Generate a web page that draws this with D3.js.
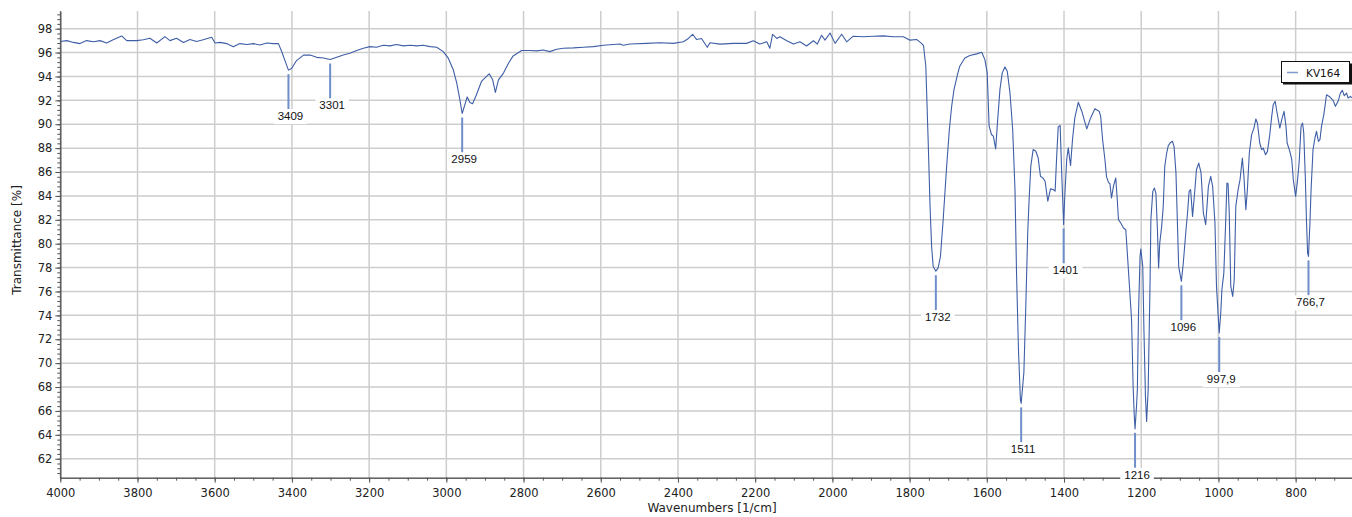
<!DOCTYPE html>
<html><head><meta charset="utf-8">
<script src="https://cdn.jsdelivr.net/npm/d3@7"></script>
<style>body{margin:0;background:#fff}svg{display:block}</style>
</head><body>
<svg id="chart" width="1352" height="517"></svg>
<script>
const wavenumbers = [4000,3983,3966,3949,3932,3914,3897,3880,3863,3841,3828,3802,3785,3768,3750,3729,3716,3699,3681,3664,3647,3630,3608,3599,3586,3569,3552,3535,3517,3500,3483,3465,3448,3435,3427,3418,3409,3401,3388,3370,3353,3336,3318,3301,3284,3267,3250,3232,3215,3198,3181,3163,3146,3129,3111,3094,3077,3060,3042,3025,3008,2995,2982,2973,2965,2959,2952,2946,2939,2932,2922,2909,2896,2889,2880,2873,2865,2852,2839,2827,2805,2783,2766,2749,2732,2714,2697,2671,2645,2619,2593,2568,2550,2542,2524,2481,2447,2412,2386,2373,2362,2352,2339,2324,2317,2291,2257,2222,2205,2188,2170,2162,2155,2144,2136,2118,2101,2084,2067,2049,2039,2028,2019,2006,1993,1976,1963,1946,1920,1894,1868,1842,1816,1799,1782,1769,1764,1758,1752,1747,1743,1739,1732,1726,1720,1713,1704,1697,1691,1685,1676,1670,1657,1644,1626,1613,1605,1599,1594,1588,1583,1577,1573,1566,1560,1553,1547,1540,1533,1527,1523,1518,1513,1511,1504,1499,1494,1490,1486,1480,1473,1467,1461,1455,1449,1442,1435,1428,1423,1419,1415,1410,1406,1401,1398,1393,1389,1383,1378,1372,1363,1354,1341,1331,1320,1309,1305,1300,1294,1290,1285,1281,1277,1272,1266,1262,1259,1253,1246,1240,1236,1231,1225,1221,1218,1216,1212,1210,1207,1203,1201,1196,1193,1189,1186,1182,1177,1175,1170,1166,1162,1158,1155,1152,1147,1143,1139,1134,1130,1124,1119,1115,1110,1107,1103,1096,1091,1084,1080,1076,1072,1067,1061,1057,1051,1045,1039,1033,1026,1020,1015,1009,1005,1001,997.9,994,991,986,981,978,975,972,968,963,959,955,949,944,938,934,929,925,920,914,908,903,899,893,888,884,878,873,867,862,858,853,848,841,835,830,825,822,815,810,806,800,795,791,786,782,779,775,772,769,766.7,763,760,755,750,746,741,737,733,727,720,711,703,697,690,684,679,674,668,664,658,654];
const transmittance = [96.93,97.00,96.85,96.75,97.00,96.90,97.00,96.80,97.07,97.39,97.00,97.00,97.07,97.20,96.80,97.33,97.00,97.20,96.85,97.10,96.93,97.07,97.28,96.80,96.85,96.75,96.48,96.75,96.67,96.75,96.64,96.80,96.75,96.75,96.13,95.33,94.53,94.67,95.33,95.79,95.79,95.60,95.55,95.42,95.61,95.80,95.94,96.17,96.36,96.50,96.44,96.61,96.56,96.67,96.56,96.61,96.56,96.61,96.50,96.44,96.08,95.53,94.56,93.44,92.06,90.90,91.64,92.28,91.83,91.72,92.47,93.58,94.00,94.22,93.72,92.67,93.72,94.28,95.11,95.72,96.17,96.17,96.14,96.22,96.08,96.28,96.36,96.39,96.44,96.50,96.61,96.67,96.72,96.61,96.72,96.77,96.82,96.77,96.90,97.18,97.53,97.10,97.18,96.44,96.82,96.71,96.77,96.77,96.99,96.71,96.90,96.36,97.53,97.18,97.32,96.99,96.71,96.90,96.55,96.99,96.71,97.45,97.04,97.64,96.77,97.53,96.90,97.37,97.32,97.37,97.40,97.32,97.32,97.04,97.10,96.77,96.59,94.86,88.72,83.14,79.79,78.12,77.70,77.98,78.95,82.02,86.49,89.56,91.51,92.90,94.16,94.86,95.55,95.75,95.89,96.03,95.41,94.30,89.84,89.14,89.00,87.94,89.84,92.90,94.30,94.80,94.44,92.63,89.56,84.54,77.56,71.15,66.96,66.63,69.20,74.77,80.91,83.98,86.49,87.88,87.74,87.19,85.65,85.51,85.23,83.56,84.59,84.54,84.40,87.32,89.78,89.89,85.93,81.61,83.98,87.05,88.02,86.54,88.72,90.53,91.84,91.09,89.61,90.53,91.29,91.09,90.66,88.70,87.03,85.64,85.13,85.02,83.82,84.80,85.50,83.68,82.01,81.73,81.31,81.17,79.22,76.71,73.64,68.05,65.60,64.50,66.50,67.80,74.19,78.94,79.55,78.10,72.80,67.22,65.12,67.77,76.98,82.01,84.38,84.66,84.24,81.17,77.96,80.05,81.45,83.12,86.47,87.59,88.20,88.48,88.57,88.15,85.92,82.57,78.10,76.85,78.38,81.17,82.57,84.38,84.52,82.29,84.52,86.19,86.75,85.92,82.57,81.59,84.80,85.64,84.80,81.73,76.42,74.19,72.52,74.19,76.15,77.54,82.01,85.08,85.02,82.57,76.42,75.59,76.98,83.12,84.52,85.36,87.17,85.64,82.85,84.52,87.59,89.13,89.68,90.44,90.10,88.43,87.87,88.01,87.45,87.73,89.13,90.66,91.64,91.92,90.94,89.68,90.52,91.08,89.82,88.43,87.73,87.03,85.36,83.96,85.36,86.75,89.82,90.10,89.27,85.64,82.01,79.22,78.94,81.73,84.52,87.87,88.85,89.41,88.57,88.71,89.82,90.80,92.47,92.28,92.00,91.50,91.92,92.61,92.84,92.39,92.61,92.20,92.33,92.20];

const xTickValues = [4000,3800,3600,3400,3200,3000,2800,2600,2400,2200,2000,1800,1600,1400,1200,1000,800];
const yTickValues = [62,64,66,68,70,72,74,76,78,80,82,84,86,88,90,92,94,96,98];

const peakWavenumbers = [3409,3301,2959,1732,1511,1401,1216,1096,997.9,766.7];
const peakTransmittance = [94.53,95.42,90.90,77.70,66.63,81.61,64.50,76.85,72.52,78.94];
const peakLabels = ["3409","3301","2959","1732","1511","1401","1216","1096","997,9","766,7"];

const seriesName = "KV164";
const xTitle = "Wavenumbers [1/cm]";
const yTitle = "Transmittance [%]";

(function draw() {
const svg = d3.select("#chart");
const plotLeft = 60.3, plotRight = 1352, plotTop = 11, plotBottom = 477.7;
const x = d3.scaleLinear().domain([4000, 654]).range([plotLeft, plotRight]);
const y = d3.scaleLinear().domain([60.41, 99.48]).range([plotBottom, plotTop]);
const lineColor = "#3e5ea6";
const tickFont = "'DejaVu Sans', Verdana, sans-serif";

// grid
const grid = svg.append("g");
grid.selectAll(".vg").data(xTickValues).join("line")
  .attr("x1", d => x(d)).attr("x2", d => x(d)).attr("y1", plotTop).attr("y2", plotBottom)
  .attr("stroke", "#cdcdcd").attr("stroke-width", 1.5);
grid.selectAll(".hg").data(yTickValues).join("line")
  .attr("x1", plotLeft).attr("x2", plotRight).attr("y1", d => y(d)).attr("y2", d => y(d))
  .attr("stroke", "#cdcdcd").attr("stroke-width", 1.5);

// axes
const axisColor = "#555";
function styleAxis(g) {
  g.select(".domain").attr("stroke", axisColor);
  g.selectAll(".tick line").attr("stroke", axisColor);
  g.selectAll(".tick text").attr("fill", "#222").style("font-family", tickFont).style("font-size", "11.5px");
}
const yMinor = d3.range(152, 249).map(i => +(i * 0.4).toFixed(1));
const xMinor = d3.range(700, 4001, 50);

svg.append("g").attr("transform", `translate(${plotLeft},0)`)
  .call(d3.axisLeft(y).tickValues(yMinor).tickSize(3).tickFormat("").tickSizeOuter(0))
  .call(styleAxis);
svg.append("g").attr("transform", `translate(${plotLeft},0)`)
  .call(d3.axisLeft(y).tickValues(yTickValues).tickSize(5).tickPadding(3).tickFormat(d3.format("d")).tickSizeOuter(0))
  .call(styleAxis);
svg.append("g").attr("transform", `translate(0,${plotBottom})`)
  .call(d3.axisBottom(x).tickValues(xMinor).tickSize(3).tickFormat("").tickSizeOuter(0))
  .call(styleAxis);
svg.append("g").attr("transform", `translate(0,${plotBottom})`)
  .call(d3.axisBottom(x).tickValues(xTickValues).tickSize(5).tickPadding(6).tickFormat(d3.format("d")).tickSizeOuter(0))
  .call(styleAxis);

// titles
svg.append("text").attr("x", 712).attr("y", 512).attr("text-anchor", "middle")
  .style("font-family", tickFont).style("font-size", "12px").attr("fill", "#222").text(xTitle);
svg.append("text").attr("transform", "translate(21,240) rotate(-90)").attr("text-anchor", "middle")
  .style("font-family", tickFont).style("font-size", "12px").attr("fill", "#222").text(yTitle);

// spectrum
svg.append("clipPath").attr("id", "clip").append("rect")
  .attr("x", plotLeft).attr("y", plotTop - 5).attr("width", plotRight - plotLeft).attr("height", plotBottom - plotTop + 5);
const pts = wavenumbers.map((w, i) => [w, transmittance[i]]);
svg.append("path").datum(pts).attr("clip-path", "url(#clip)")
  .attr("fill", "none").attr("stroke", lineColor).attr("stroke-width", 1.1)
  .attr("stroke-linejoin", "round")
  .attr("d", d3.line().x(d => x(d[0])).y(d => y(d[1])));

// peak markers
const peaks = peakWavenumbers.map((w, i) => ({w, t: peakTransmittance[i], label: peakLabels[i]}));
const pg = svg.append("g");
peaks.forEach(p => {
  const px = x(p.w), py = y(p.t);
  pg.append("line").attr("x1", px).attr("x2", px).attr("y1", py + 4).attr("y2", py + 39)
    .attr("stroke", "#6f8ecb").attr("stroke-width", 2);
  const g = pg.append("g");
  const rect = g.append("rect").attr("fill", "#fff");
  const t = g.append("text").attr("x", px + 2).attr("y", py + 50).attr("text-anchor", "middle")
    .style("font-family", "'Liberation Sans', Arial, sans-serif").style("font-size", "11.5px")
    .attr("fill", "#111").text(p.label);
  const bb = t.node().getBBox();
  rect.attr("x", bb.x - 4).attr("y", py + 39).attr("width", bb.width + 8).attr("height", 15);
});

// legend
const lg = svg.append("g");
lg.append("rect").attr("x", 1283).attr("y", 63.5).attr("width", 69).attr("height", 21).attr("fill", "#111");
lg.append("rect").attr("x", 1281.5).attr("y", 61.5).attr("width", 68).attr("height", 21)
  .attr("fill", "#fff").attr("stroke", "#111").attr("stroke-width", 1);
lg.append("line").attr("x1", 1287).attr("x2", 1298).attr("y1", 72.5).attr("y2", 72.5)
  .attr("stroke", "#7f9acb").attr("stroke-width", 1.5);
lg.append("text").attr("x", 1306).attr("y", 76.5)
  .style("font-family", tickFont).style("font-size", "10.5px").attr("fill", "#111").text(seriesName);
})();
</script>
</body></html>
